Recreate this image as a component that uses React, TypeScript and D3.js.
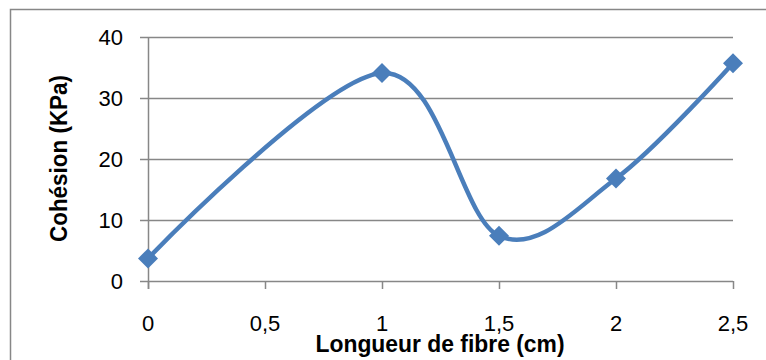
import React from "react";
import * as d3 from "d3";

const lengths = [0, 1, 1.5, 2, 2.5];
const cohesion = [3.7, 34.1, 7.4, 16.8, 35.7];
const xTicks = [0, 0.5, 1, 1.5, 2, 2.5];
const yTicks = [0, 10, 20, 30, 40];
const xTitle = "Longueur de fibre (cm)";
const yTitle = "Cohésion (KPa)";

const W = 766;
const H = 360;
const FONT = "'Liberation Sans', Arial, sans-serif";
const GRID = "#878787";
const BLUE = "#4a7ebb";

export default function App() {
  const x = d3.scaleLinear().domain([0, 2.5]).range([148, 733]);
  const y = d3.scaleLinear().domain([0, 40]).range([281, 37]);
  const pts: [number, number][] = lengths.map((l, i) => [x(l), y(cohesion[i])]);
  const line = d3.line().curve(d3.curveCardinal.tension(0));
  const path = line(pts) || "";
  const fmt = (v: number) => String(v).replace(".", ",");
  const d = 10;

  return (
    <svg
      width={W}
      height={H}
      style={{ position: "absolute", left: 0, top: 0, background: "#fff" }}
    >
      <rect x={10.5} y={9.5} width={800} height={400} fill="#fff" stroke={GRID} strokeWidth={1.5} />
      {yTicks.map((t) => (
        <line key={"g" + t} x1={140} x2={733} y1={Math.round(y(t)) + 0.5} y2={Math.round(y(t)) + 0.5} stroke={GRID} strokeWidth={1.5} />
      ))}
      <line x1={148.5} x2={148.5} y1={37} y2={289} stroke={GRID} strokeWidth={1.5} />
      {xTicks.map((t) => (
        <line key={"t" + t} x1={Math.round(x(t)) + 0.5} x2={Math.round(x(t)) + 0.5} y1={281} y2={289} stroke={GRID} strokeWidth={1.5} />
      ))}
      {yTicks.map((t) => (
        <text key={"yl" + t} x={123} y={y(t)} dy="0.36em" textAnchor="end" fontFamily={FONT} fontSize={22} fill="#000">
          {t}
        </text>
      ))}
      {xTicks.map((t) => (
        <text key={"xl" + t} x={x(t)} y={331} textAnchor="middle" fontFamily={FONT} fontSize={22} fill="#000">
          {fmt(t)}
        </text>
      ))}
      <text x={440} y={352} textAnchor="middle" fontFamily={FONT} fontSize={24} fontWeight="bold" textLength={249} lengthAdjust="spacingAndGlyphs" fill="#000">
        {xTitle}
      </text>
      <text transform="translate(67,158.5) rotate(-90)" textAnchor="middle" fontFamily={FONT} fontSize={23} fontWeight="bold" textLength={167} lengthAdjust="spacingAndGlyphs" fill="#000">
        {yTitle}
      </text>
      <path d={path} fill="none" stroke={BLUE} strokeWidth={4.5} strokeLinecap="round" />
      {pts.map(([px, py], i) => (
        <path key={"m" + i} d={`M${px},${py - d}L${px + d},${py}L${px},${py + d}L${px - d},${py}Z`} fill={BLUE} />
      ))}
    </svg>
  );
}
